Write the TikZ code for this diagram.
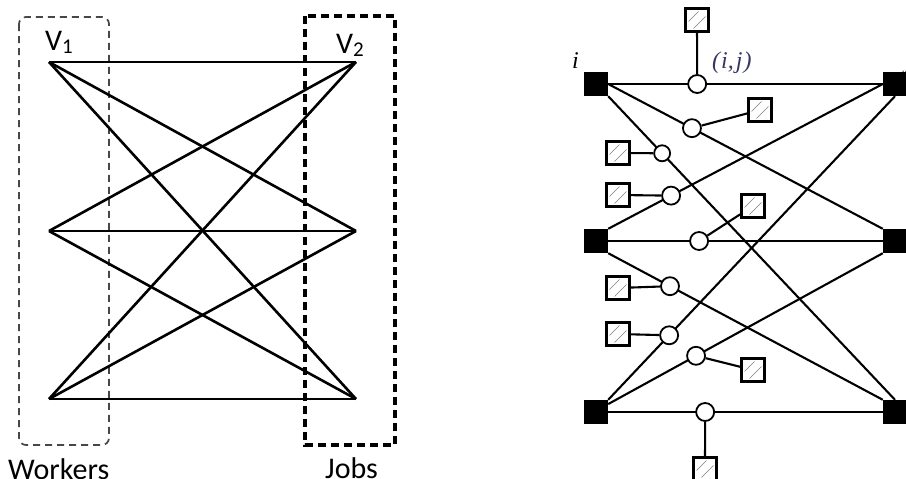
\documentclass[tikz,border=0pt]{standalone}
\usepackage{fontspec}
\setmainfont{Carlito}
\newfontfamily\serifit{Liberation Serif}
\usetikzlibrary{calc}
\definecolor{slate}{RGB}{55,55,95}
\tikzset{
  graphedge/.style={line width=2.6pt},
  workbox/.style={draw=black!72, line width=1.7pt, dash pattern=on 7pt off 5pt, rounded corners=7pt},
  jobbox/.style={draw=black, line width=3.4pt, dash pattern=on 8pt off 5pt},
  lbl/.style={font=\fontsize{30}{32}\selectfont, inner sep=0pt, anchor=base west},
  vtx/.style={draw=none, fill=black, minimum size=24pt, inner sep=0pt},
  arc/.style={line width=2.1pt},
  circ/.style={circle, draw=black, fill=white, line width=1.8pt, minimum size=18pt, inner sep=0pt},
  hatchbox/.style={draw=black, fill=white, line width=2.6pt, minimum size=23pt, inner sep=0pt,
    path picture={
      \draw[gray, line width=0.6pt] ([shift={(3pt,10pt)}]path picture bounding box.south west) -- ([shift={(-10pt,-3pt)}]path picture bounding box.north east);
      \draw[gray, line width=0.6pt] ([shift={(8pt,3pt)}]path picture bounding box.south west) -- ([shift={(-3pt,-8pt)}]path picture bounding box.north east);
    }},
  serlbl/.style={font=\serifit\itshape\fontsize{24}{26}\selectfont, inner sep=0pt, anchor=base west}
}
\begin{document}
\begin{tikzpicture}[x=1pt,y=-1pt]
\useasboundingbox (0,0) rectangle (906,479);
% ---------------- left diagram ----------------
\draw[workbox] (19,17) rectangle (109,445);
\draw[jobbox] (305,16) rectangle (395,445);
\coordinate (a1) at (49,62);
\coordinate (a2) at (49,231);
\coordinate (a3) at (49,399);
\coordinate (b1) at (356,62);
\coordinate (b2) at (356,231);
\coordinate (b3) at (356,399);
\foreach \u in {a1,a2,a3}{
  \foreach \v in {b1,b2,b3}{
    \draw[graphedge] (\u) -- (\v);
  }
}
\node[lbl] (v1) at (45,50) {V{\fontsize{21}{21}\selectfont\raisebox{-3pt}{1}}};
\node[lbl] (v2) at (336,53) {V{\fontsize{21}{21}\selectfont\raisebox{-3pt}{2}}};
\node[lbl] (workers) at (8,479) {Workers};
\node[lbl] (jobs) at (325,478) {Jobs};
% ---------------- right diagram ----------------
\node[serlbl] (ilbl) at (572,68) {i};
\node[serlbl, text=slate] (ijlbl) at (712,68) {(\kern1pt i,\kern2pt j\kern1pt)};
\node[serlbl] (jlbl) at (905,68) {j};
\node[vtx] (L1) at (596,84) {};
\node[vtx] (L2) at (596,241) {};
\node[vtx] (L3) at (596,412) {};
\node[vtx] (R1) at (895,84) {};
\node[vtx] (R2) at (895,241) {};
\node[vtx] (R3) at (895,412) {};
\draw[arc] (L1.east) -- node[pos=0.324, circ] (c1) {} (R1.west);
\draw[arc] (L1.east) -- node[pos=0.305, circ] (c2) {} (R2.north west);
\draw[arc] (L1.south east) -- node[pos=0.188, circ, minimum size=16pt] (c3) {} (R3.north);
\draw[arc] (L2.north east) -- node[pos=0.229, circ] (c4) {} (R1.west);
\draw[arc] (L2.east) -- node[pos=0.331, circ] (c5) {} (R2.west);
\draw[arc] (L2.south east) -- node[pos=0.225, circ] (c6) {} (R3.north west);
\draw[arc] (L3.north east) -- node[pos=0.2125, circ] (c7) {} (R1.south);
\draw[arc] ($(L3.north east)!0.35!(L3.east)$) -- node[pos=0.32, circ] (c8) {} (R2.south west);
\draw[arc] (L3.east) -- node[pos=0.353, circ] (c9) {} (R3.west);
\node[hatchbox] (h1) at (697,20) {};
\node[hatchbox] (h2) at (760,110) {};
\node[hatchbox] (h3) at (618,153) {};
\node[hatchbox] (h4) at (618,195) {};
\node[hatchbox] (h5) at (753,206) {};
\node[hatchbox] (h6) at (618,288) {};
\node[hatchbox] (h7) at (618,334) {};
\node[hatchbox] (h8) at (753,370) {};
\node[hatchbox] (h9) at (705,469) {};
\draw[arc] (c1) -- (h1);
\draw[arc] (c2) -- (h2);
\draw[arc] (c3) -- (h3);
\draw[arc] (c4) -- (h4);
\draw[arc] (c5) -- (h5);
\draw[arc] (c6) -- (h6);
\draw[arc] (c7) -- (h7);
\draw[arc] (c8) -- (h8);
\draw[arc] (c9) -- (h9);
\end{tikzpicture}
\end{document}
